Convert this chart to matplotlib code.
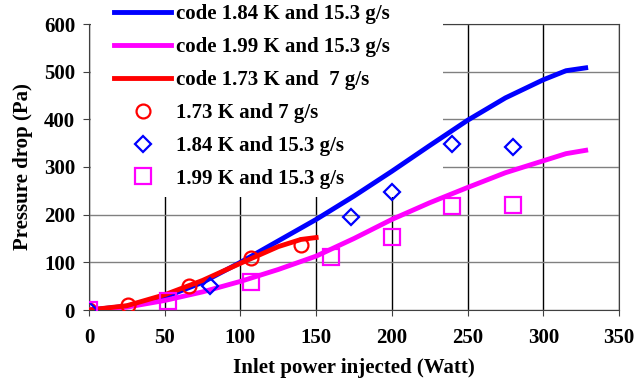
import numpy as np
import matplotlib.pyplot as plt
from matplotlib.patches import Rectangle

plt.rcParams['font.family'] = ['Liberation Serif', 'DejaVu Serif']
plt.rcParams['font.weight'] = 'bold'

# model curves
code_184_x = [0, 25, 50, 75, 100, 125, 150, 175, 200, 225, 250, 275, 300, 315, 328]
code_184_y = [0, 8, 27, 58, 100, 145, 190, 239, 291, 345, 398, 445, 483, 502, 508]
code_199_x = [0, 25, 50, 75, 100, 125, 150, 175, 200, 225, 250, 275, 300, 315, 328]
code_199_y = [0, 6, 20, 38, 60, 85, 113, 150, 190, 225, 257, 288, 313, 328, 335]
code_173_x = [0, 25, 50, 75, 100, 125, 140, 150]
code_173_y = [0, 9, 32, 62, 98, 133, 148, 152]

# measurements
meas_173_x = [0, 26, 66, 107, 140]
meas_173_y = [0, 10, 50, 110, 136]
meas_184_x = [0, 80, 173, 200, 240, 280]
meas_184_y = [0, 50, 195, 248, 348, 343]
meas_199_x = [0, 52, 107, 160, 200, 240, 280]
meas_199_y = [0, 18, 58, 112, 153, 218, 220]

fig = plt.figure(figsize=(6.39, 3.83), dpi=100)
ax = fig.add_axes([89/639, 1-310/383, 530/639, 286/383])

ax.plot(code_184_x, code_184_y, color='#0000ff', lw=3.5, label='code 1.84 K and 15.3 g/s', zorder=3)
ax.plot(code_199_x, code_199_y, color='#ff00ff', lw=3.5, label='code 1.99 K and 15.3 g/s', zorder=3)
ax.plot(code_173_x, code_173_y, color='#ff0000', lw=3.5, label='code 1.73 K and  7 g/s', zorder=4)
ax.plot(meas_173_x, meas_173_y, 'o', mfc='none', mec='#ff0000', mew=1.6, ms=10, label='1.73 K and 7 g/s', zorder=5)
ax.plot(meas_184_x, meas_184_y, 'D', mfc='none', mec='#0000ff', mew=1.6, ms=8, label='1.84 K and 15.3 g/s', zorder=5)
ax.plot(meas_199_x, meas_199_y, 's', mfc='none', mec='#ff00ff', mew=1.6, ms=11, label='1.99 K and 15.3 g/s', zorder=5)

ax.set_xlim(0, 350)
ax.set_ylim(0, 600)
ax.set_xticks(np.arange(0, 351, 50))
ax.set_yticks(np.arange(0, 601, 100))
ax.xaxis.grid(True, color='black', lw=1)
ax.yaxis.grid(True, color='#808080', lw=1)
ax.set_axisbelow(True)
for s in ax.spines.values():
    s.set_color('#404040')
ax.tick_params(labelsize=15, direction='out', length=4, color='#404040')
for t in ax.get_xticklabels() + ax.get_yticklabels():
    t.set_fontweight('bold')
ax.tick_params(axis='x', pad=9)
ax.tick_params(axis='y', pad=6)
ax.set_xlabel('Inlet power injected (Watt)', fontsize=15, fontweight='bold', labelpad=7)
ax.set_ylabel('Pressure drop (Pa)', fontsize=15, fontweight='bold', labelpad=8)

# white legend area: hides grid and top spine, curves stay on top
ax.add_patch(Rectangle((0.004, 0.395), 0.664, 0.66, transform=ax.transAxes,
                       facecolor='white', edgecolor='none', zorder=2.6, clip_on=False))

leg = ax.legend(loc='upper left', bbox_to_anchor=(21/530, 1 + 24/286), frameon=False,
                handlelength=2.75, labelspacing=0.62, handletextpad=0.2,
                borderaxespad=0, borderpad=0.2, prop={'weight': 'bold', 'size': 15})
leg.set_zorder(2.7)

fig.savefig('out.png', dpi=100)
